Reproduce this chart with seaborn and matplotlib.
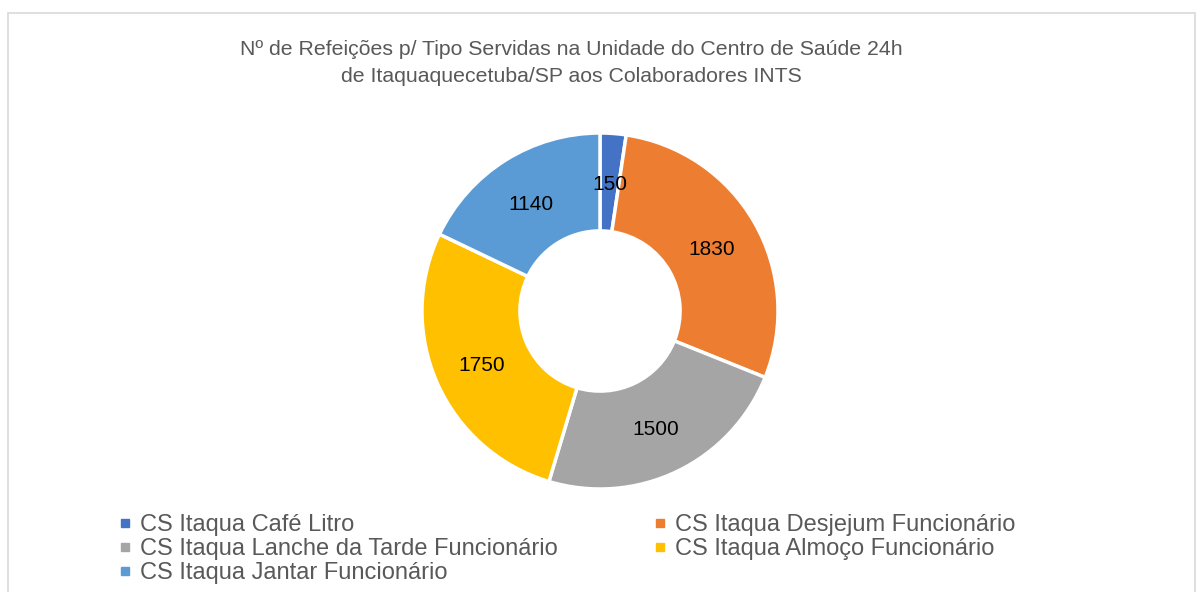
import matplotlib.pyplot as plt
import numpy as np
import seaborn as sns
from matplotlib.lines import Line2D

categories = [
    "CS Itaqua Café Litro",
    "CS Itaqua Desjejum Funcionário",
    "CS Itaqua Lanche da Tarde Funcionário",
    "CS Itaqua Almoço Funcionário",
    "CS Itaqua Jantar Funcionário",
]
values = [150, 1830, 1500, 1750, 1140]
colors = ["#4472C4", "#ED7D31", "#A5A5A5", "#FFC000", "#5B9BD5"]
title = ("Nº de Refeições p/ Tipo Servidas na Unidade do Centro de Saúde 24h\n"
         "de Itaquaquecetuba/SP aos Colaboradores INTS")

sns.set_theme(style="white")
plt.rcParams["font.family"] = ["Liberation Sans", "DejaVu Sans"]

W, H = 1197, 592
fig = plt.figure(figsize=(W / 100, H / 100), dpi=100)

# chart border (bottom runs off the image)
border = plt.Rectangle((8 / W, -0.05), (1195 - 8) / W, 1.05 - 13 / H,
                       transform=fig.transFigure, fill=False,
                       edgecolor="#D9D9D9", linewidth=1.2)
fig.add_artist(border)

fig.text(571 / W, 1 - 63 / H, title, ha="center", va="center",
         fontsize=15.3, color="#595959", linespacing=1.5)

# donut: centre (600, 311), outer radius 178 px
cx, cy, r = 600, 311, 178
ax = fig.add_axes([(cx - r) / W, 1 - (cy + r) / H, 2 * r / W, 2 * r / H])
ring = 0.55
wedges, _ = ax.pie(values, colors=sns.color_palette(colors), startangle=90,
                   counterclock=False, radius=1,
                   wedgeprops=dict(width=ring, edgecolor="white", linewidth=2.5))

for w, v in zip(wedges, values):
    ang = np.deg2rad((w.theta1 + w.theta2) / 2)
    rr = 1 - ring / 2
    ax.text(rr * np.cos(ang), rr * np.sin(ang) - 0.015, str(v), ha="center",
            va="center", fontsize=15, color="black")
ax.set_xlim(-1, 1)
ax.set_ylim(-1, 1)
ax.set_aspect("equal")
ax.axis("off")

handles = [Line2D([], [], marker="s", linestyle="none", markersize=5.5,
                  color=c) for c in colors]
leg_kw = dict(loc="upper left", frameon=False, fontsize=17,
              labelcolor="#595959", handlelength=0.55, handletextpad=0.35,
              labelspacing=0.09, borderpad=0, borderaxespad=0)
for idx, x0 in (([0, 2, 4], 119), ([1, 3], 654)):
    fig.legend([handles[i] for i in idx], [categories[i] for i in idx],
               bbox_to_anchor=(x0 / W, 1 - 514 / H), **leg_kw)

fig.savefig("out.png", dpi=100, facecolor="white")
